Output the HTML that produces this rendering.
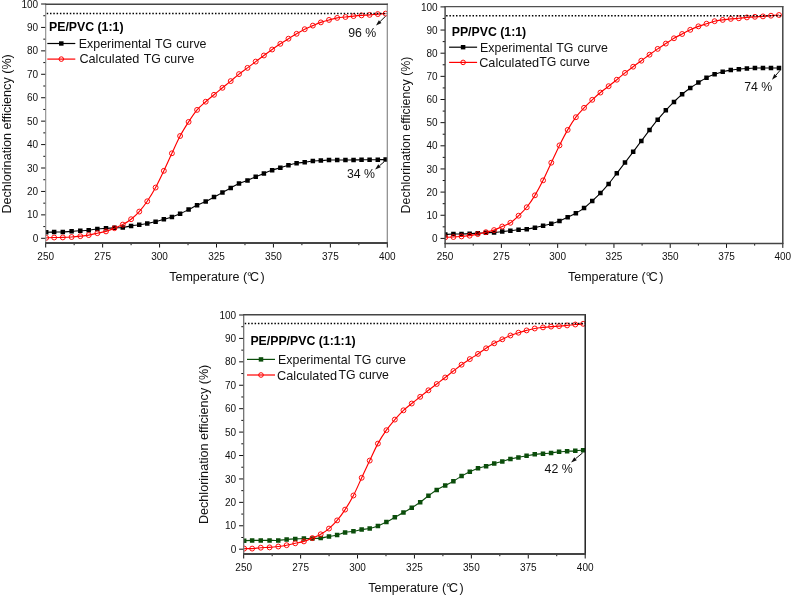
<!DOCTYPE html>
<html><head><meta charset="utf-8"><style>
html,body{margin:0;padding:0;background:#fff;}
svg{display:block;will-change:transform;}
text{font-family:"Liberation Sans", sans-serif;fill:#111;}
.t{font-size:10px;}
.l{font-size:12.5px;}
.yl{font-size:12.6px;}
.g{font-size:12.4px;word-spacing:0.6px;}
.c{font-size:12.7px;}
.g2{font-size:12.3px;}
.b{font-size:12.3px;font-weight:bold;fill:#000;}
.a{font-size:12.3px;}
</style></head><body>
<svg width="791" height="595" viewBox="0 0 791 595">
<rect width="791" height="595" fill="#fff"/>

<defs>
<clipPath id="c1"><rect x="45.7" y="4.2" width="341.6" height="238.8"/></clipPath>
<clipPath id="c2"><rect x="445.1" y="6.6" width="337.7" height="236.8"/></clipPath>
<clipPath id="c3"><rect x="243.7" y="314.7" width="341.5" height="239.3"/></clipPath>
</defs>
<path d="M41.1 238.3H45.7M43.3 226.59H45.7M41.1 214.87H45.7M43.3 203.16H45.7M41.1 191.44H45.7M43.3 179.73H45.7M41.1 168.01H45.7M43.3 156.3H45.7M41.1 144.58H45.7M43.3 132.87H45.7M41.1 121.15H45.7M43.3 109.44H45.7M41.1 97.72H45.7M43.3 86.01H45.7M41.1 74.29H45.7M43.3 62.58H45.7M41.1 50.86H45.7M43.3 39.15H45.7M41.1 27.43H45.7M43.3 15.72H45.7M41.1 4H45.7M45.7 243V247.5M74.17 243V245.2M102.63 243V247.5M131.1 243V245.2M159.57 243V247.5M188.03 243V245.2M216.5 243V247.5M244.97 243V245.2M273.43 243V247.5M301.9 243V245.2M330.37 243V247.5M358.83 243V245.2M387.3 243V247.5" stroke="#111" stroke-width="1" fill="none"/>
<text x="38.2" y="241.9" text-anchor="end" class="t">0</text>
<text x="38.2" y="218.47" text-anchor="end" class="t">10</text>
<text x="38.2" y="195.04" text-anchor="end" class="t">20</text>
<text x="38.2" y="171.61" text-anchor="end" class="t">30</text>
<text x="38.2" y="148.18" text-anchor="end" class="t">40</text>
<text x="38.2" y="124.75" text-anchor="end" class="t">50</text>
<text x="38.2" y="101.32" text-anchor="end" class="t">60</text>
<text x="38.2" y="77.89" text-anchor="end" class="t">70</text>
<text x="38.2" y="54.46" text-anchor="end" class="t">80</text>
<text x="38.2" y="31.03" text-anchor="end" class="t">90</text>
<text x="38.2" y="7.6" text-anchor="end" class="t">100</text>
<text x="45.7" y="259.6" text-anchor="middle" class="t">250</text>
<text x="102.63" y="259.6" text-anchor="middle" class="t">275</text>
<text x="159.57" y="259.6" text-anchor="middle" class="t">300</text>
<text x="216.5" y="259.6" text-anchor="middle" class="t">325</text>
<text x="273.43" y="259.6" text-anchor="middle" class="t">350</text>
<text x="330.37" y="259.6" text-anchor="middle" class="t">375</text>
<text x="387.3" y="259.6" text-anchor="middle" class="t">400</text>
<text x="217" y="280.8" text-anchor="middle" class="l">Temperature (<tspan>°</tspan><tspan dx="-2">C</tspan><tspan dx="1.5">)</tspan></text>
<text transform="translate(10.9 133.9) rotate(-90)" text-anchor="middle" class="yl" style="font-size:12.6px">Dechlorination efficiency (%)</text>
<g clip-path="url(#c1)">
<path d="M46.2 232.3C47.53 232.27 51.38 232.15 54.15 232.09C56.92 232.04 59.89 232.11 62.8 231.97C65.71 231.84 68.68 231.49 71.6 231.29C74.52 231.1 77.45 230.99 80.3 230.8C83.15 230.62 85.86 230.5 88.7 230.19C91.54 229.89 94.47 229.28 97.35 228.97C100.23 228.67 103.15 228.53 106 228.34C108.85 228.16 111.65 228.01 114.45 227.87C117.25 227.74 120.03 227.85 122.8 227.52C125.57 227.19 128.36 226.34 131.1 225.88C133.84 225.43 136.56 225.21 139.25 224.8C141.94 224.39 144.53 223.93 147.25 223.42C149.97 222.92 152.83 222.46 155.6 221.78C158.37 221.11 161.13 220.18 163.85 219.37C166.57 218.56 169.19 217.86 171.9 216.93C174.61 216 177.32 215.01 180.1 213.79C182.88 212.57 185.77 211.01 188.6 209.6C191.43 208.18 194.2 206.64 197.05 205.31C199.9 203.98 202.88 202.98 205.7 201.61C208.52 200.24 211.21 198.61 214 197.11C216.79 195.61 219.67 194.13 222.45 192.61C225.23 191.09 227.94 189.51 230.7 188C233.46 186.48 236.2 184.76 239 183.5C241.8 182.23 244.72 181.52 247.5 180.4C250.28 179.29 252.97 177.96 255.7 176.8C258.43 175.63 261.16 174.48 263.9 173.4C266.64 172.32 269.41 171.26 272.15 170.31C274.89 169.36 277.63 168.56 280.35 167.71C283.07 166.85 285.74 165.93 288.45 165.2C291.16 164.46 293.89 163.79 296.6 163.3C299.31 162.81 301.99 162.65 304.7 162.27C307.41 161.89 310.16 161.28 312.85 161C315.54 160.73 318.16 160.77 320.85 160.61C323.54 160.44 326.27 160.1 329 160C331.73 159.9 334.46 159.99 337.2 160C339.94 160 342.72 160.06 345.45 160.04C348.18 160.03 350.87 159.94 353.55 159.9C356.23 159.86 358.88 159.83 361.55 159.81C364.23 159.79 366.89 159.83 369.6 159.81C372.31 159.79 375.12 159.73 377.8 159.69C380.48 159.65 384.34 159.59 385.65 159.58" stroke="#000" stroke-width="1.1" fill="none"/>
<path d="M43.95 230.05h4.5v4.5h-4.5zM51.9 229.84h4.5v4.5h-4.5zM60.55 229.72h4.5v4.5h-4.5zM69.35 229.04h4.5v4.5h-4.5zM78.05 228.55h4.5v4.5h-4.5zM86.45 227.94h4.5v4.5h-4.5zM95.1 226.72h4.5v4.5h-4.5zM103.75 226.09h4.5v4.5h-4.5zM112.2 225.62h4.5v4.5h-4.5zM120.55 225.27h4.5v4.5h-4.5zM128.85 223.63h4.5v4.5h-4.5zM137 222.55h4.5v4.5h-4.5zM145 221.17h4.5v4.5h-4.5zM153.35 219.53h4.5v4.5h-4.5zM161.6 217.12h4.5v4.5h-4.5zM169.65 214.68h4.5v4.5h-4.5zM177.85 211.54h4.5v4.5h-4.5zM186.35 207.35h4.5v4.5h-4.5zM194.8 203.06h4.5v4.5h-4.5zM203.45 199.36h4.5v4.5h-4.5zM211.75 194.86h4.5v4.5h-4.5zM220.2 190.36h4.5v4.5h-4.5zM228.45 185.75h4.5v4.5h-4.5zM236.75 181.25h4.5v4.5h-4.5zM245.25 178.15h4.5v4.5h-4.5zM253.45 174.55h4.5v4.5h-4.5zM261.65 171.15h4.5v4.5h-4.5zM269.9 168.06h4.5v4.5h-4.5zM278.1 165.46h4.5v4.5h-4.5zM286.2 162.95h4.5v4.5h-4.5zM294.35 161.05h4.5v4.5h-4.5zM302.45 160.02h4.5v4.5h-4.5zM310.6 158.75h4.5v4.5h-4.5zM318.6 158.36h4.5v4.5h-4.5zM326.75 157.75h4.5v4.5h-4.5zM334.95 157.75h4.5v4.5h-4.5zM343.2 157.79h4.5v4.5h-4.5zM351.3 157.65h4.5v4.5h-4.5zM359.3 157.56h4.5v4.5h-4.5zM367.35 157.56h4.5v4.5h-4.5zM375.55 157.44h4.5v4.5h-4.5zM383.4 157.33h4.5v4.5h-4.5z" fill="#000"/>
</g>
<g clip-path="url(#c1)">
<path d="M46.2 237.83C47.53 237.78 51.38 237.57 54.15 237.5C56.92 237.43 59.89 237.49 62.8 237.41C65.71 237.33 68.68 237.21 71.6 237.01C74.52 236.81 77.45 236.51 80.3 236.19C83.15 235.87 85.86 235.59 88.7 235.09C91.54 234.59 94.47 233.81 97.35 233.19C100.23 232.58 103.15 232.24 106 231.41C108.85 230.58 111.65 229.34 114.45 228.2C117.25 227.07 120.03 226.09 122.8 224.59C125.57 223.09 128.36 221.37 131.1 219.2C133.84 217.04 136.56 214.58 139.25 211.59C141.94 208.6 144.53 205.28 147.25 201.28C149.97 197.28 152.83 192.65 155.6 187.57C158.37 182.5 161.13 176.53 163.85 170.82C166.57 165.11 169.19 159.1 171.9 153.3C174.61 147.49 177.32 141.24 180.1 136C182.88 130.77 185.77 126.25 188.6 121.9C191.43 117.55 194.2 113.27 197.05 109.9C199.9 106.54 202.88 104.22 205.7 101.7C208.52 99.18 211.21 97.11 214 94.79C216.79 92.48 219.67 90.09 222.45 87.81C225.23 85.53 227.94 83.39 230.7 81.11C233.46 78.82 236.2 76.3 239 74.1C241.8 71.9 244.72 69.98 247.5 67.89C250.28 65.81 252.97 63.66 255.7 61.59C258.43 59.53 261.16 57.51 263.9 55.5C266.64 53.48 269.41 51.45 272.15 49.5C274.89 47.55 277.63 45.61 280.35 43.81C283.07 42.01 285.74 40.37 288.45 38.7C291.16 37.03 293.89 35.38 296.6 33.8C299.31 32.22 301.99 30.58 304.7 29.21C307.41 27.84 310.16 26.74 312.85 25.6C315.54 24.47 318.16 23.34 320.85 22.39C323.54 21.45 326.27 20.68 329 19.93C331.73 19.18 334.46 18.38 337.2 17.89C339.94 17.41 342.72 17.3 345.45 17C348.18 16.7 350.87 16.36 353.55 16.09C356.23 15.82 358.88 15.59 361.55 15.39C364.23 15.19 366.89 15.11 369.6 14.89C372.31 14.68 375.12 14.29 377.8 14.07C380.48 13.86 384.34 13.68 385.65 13.61" stroke="#f00" stroke-width="1.15" fill="none"/>
<circle cx="46.2" cy="237.83" r="2.45" fill="none" stroke="#f00" stroke-width="0.95"/>
<circle cx="54.15" cy="237.5" r="2.45" fill="none" stroke="#f00" stroke-width="0.95"/>
<circle cx="62.8" cy="237.41" r="2.45" fill="none" stroke="#f00" stroke-width="0.95"/>
<circle cx="71.6" cy="237.01" r="2.45" fill="none" stroke="#f00" stroke-width="0.95"/>
<circle cx="80.3" cy="236.19" r="2.45" fill="none" stroke="#f00" stroke-width="0.95"/>
<circle cx="88.7" cy="235.09" r="2.45" fill="none" stroke="#f00" stroke-width="0.95"/>
<circle cx="97.35" cy="233.19" r="2.45" fill="none" stroke="#f00" stroke-width="0.95"/>
<circle cx="106" cy="231.41" r="2.45" fill="none" stroke="#f00" stroke-width="0.95"/>
<circle cx="114.45" cy="228.2" r="2.45" fill="none" stroke="#f00" stroke-width="0.95"/>
<circle cx="122.8" cy="224.59" r="2.45" fill="none" stroke="#f00" stroke-width="0.95"/>
<circle cx="131.1" cy="219.2" r="2.45" fill="none" stroke="#f00" stroke-width="0.95"/>
<circle cx="139.25" cy="211.59" r="2.45" fill="none" stroke="#f00" stroke-width="0.95"/>
<circle cx="147.25" cy="201.28" r="2.45" fill="none" stroke="#f00" stroke-width="0.95"/>
<circle cx="155.6" cy="187.57" r="2.45" fill="none" stroke="#f00" stroke-width="0.95"/>
<circle cx="163.85" cy="170.82" r="2.45" fill="none" stroke="#f00" stroke-width="0.95"/>
<circle cx="171.9" cy="153.3" r="2.45" fill="none" stroke="#f00" stroke-width="0.95"/>
<circle cx="180.1" cy="136" r="2.45" fill="none" stroke="#f00" stroke-width="0.95"/>
<circle cx="188.6" cy="121.9" r="2.45" fill="none" stroke="#f00" stroke-width="0.95"/>
<circle cx="197.05" cy="109.9" r="2.45" fill="none" stroke="#f00" stroke-width="0.95"/>
<circle cx="205.7" cy="101.7" r="2.45" fill="none" stroke="#f00" stroke-width="0.95"/>
<circle cx="214" cy="94.79" r="2.45" fill="none" stroke="#f00" stroke-width="0.95"/>
<circle cx="222.45" cy="87.81" r="2.45" fill="none" stroke="#f00" stroke-width="0.95"/>
<circle cx="230.7" cy="81.11" r="2.45" fill="none" stroke="#f00" stroke-width="0.95"/>
<circle cx="239" cy="74.1" r="2.45" fill="none" stroke="#f00" stroke-width="0.95"/>
<circle cx="247.5" cy="67.89" r="2.45" fill="none" stroke="#f00" stroke-width="0.95"/>
<circle cx="255.7" cy="61.59" r="2.45" fill="none" stroke="#f00" stroke-width="0.95"/>
<circle cx="263.9" cy="55.5" r="2.45" fill="none" stroke="#f00" stroke-width="0.95"/>
<circle cx="272.15" cy="49.5" r="2.45" fill="none" stroke="#f00" stroke-width="0.95"/>
<circle cx="280.35" cy="43.81" r="2.45" fill="none" stroke="#f00" stroke-width="0.95"/>
<circle cx="288.45" cy="38.7" r="2.45" fill="none" stroke="#f00" stroke-width="0.95"/>
<circle cx="296.6" cy="33.8" r="2.45" fill="none" stroke="#f00" stroke-width="0.95"/>
<circle cx="304.7" cy="29.21" r="2.45" fill="none" stroke="#f00" stroke-width="0.95"/>
<circle cx="312.85" cy="25.6" r="2.45" fill="none" stroke="#f00" stroke-width="0.95"/>
<circle cx="320.85" cy="22.39" r="2.45" fill="none" stroke="#f00" stroke-width="0.95"/>
<circle cx="329" cy="19.93" r="2.45" fill="none" stroke="#f00" stroke-width="0.95"/>
<circle cx="337.2" cy="17.89" r="2.45" fill="none" stroke="#f00" stroke-width="0.95"/>
<circle cx="345.45" cy="17" r="2.45" fill="none" stroke="#f00" stroke-width="0.95"/>
<circle cx="353.55" cy="16.09" r="2.45" fill="none" stroke="#f00" stroke-width="0.95"/>
<circle cx="361.55" cy="15.39" r="2.45" fill="none" stroke="#f00" stroke-width="0.95"/>
<circle cx="369.6" cy="14.89" r="2.45" fill="none" stroke="#f00" stroke-width="0.95"/>
<circle cx="377.8" cy="14.07" r="2.45" fill="none" stroke="#f00" stroke-width="0.95"/>
<circle cx="385.65" cy="13.61" r="2.45" fill="none" stroke="#f00" stroke-width="0.95"/>
</g>
<path d="M46.7 13.6H387.3" stroke="#000" stroke-width="1.5" stroke-dasharray="1.5 1.8"/>
<path d="M45.7 3.6V243.7" stroke="#8a8a8a" stroke-width="1.1"/>
<path d="M387.3 3.6V243.7" stroke="#888" stroke-width="1.2"/>
<path d="M45.2 4.2H387.8" stroke="#444" stroke-width="1.4"/>
<path d="M45.2 243H387.8" stroke="#444" stroke-width="1.8"/>
<text x="49" y="31.4" class="b">PE/PVC (1:1)</text>
<path d="M47.3 43.5h28" stroke="#000" stroke-width="1.2"/>
<path d="M47.3 59.1h28" stroke="#f00" stroke-width="1.2"/>
<rect x="59.05" y="41.3" width="4.5" height="4.4" fill="#000"/>
<circle cx="61.3" cy="59.1" r="2.3" fill="none" stroke="#f00" stroke-width="1"/>
<text x="78.8" y="47.7" class="g">Experimental TG curve</text>
<text x="79.4" y="63" class="c">Calculated</text>
<text x="143.7" y="63" class="g2">TG curve</text>
<path d="M385.6 16.2L380.14 21.54" stroke="#111" stroke-width="1"/>
<path d="M376 25.6L378.81 20.18L381.47 22.9Z" fill="#111"/>
<text x="348.2" y="36.8" class="a">96 %</text>
<path d="M384.1 161.8L379.51 165.73" stroke="#111" stroke-width="1"/>
<path d="M375.1 169.5L378.27 164.29L380.74 167.17Z" fill="#111"/>
<text x="347" y="178.2" class="a">34 %</text>
<path d="M440.5 238.4H445.1M442.7 226.83H445.1M440.5 215.25H445.1M442.7 203.68H445.1M440.5 192.1H445.1M442.7 180.53H445.1M440.5 168.95H445.1M442.7 157.38H445.1M440.5 145.8H445.1M442.7 134.23H445.1M440.5 122.65H445.1M442.7 111.08H445.1M440.5 99.5H445.1M442.7 87.93H445.1M440.5 76.35H445.1M442.7 64.78H445.1M440.5 53.2H445.1M442.7 41.62H445.1M440.5 30.05H445.1M442.7 18.48H445.1M440.5 6.9H445.1M445.1 243.4V247.9M473.24 243.4V245.6M501.38 243.4V247.9M529.52 243.4V245.6M557.67 243.4V247.9M585.81 243.4V245.6M613.95 243.4V247.9M642.09 243.4V245.6M670.23 243.4V247.9M698.38 243.4V245.6M726.52 243.4V247.9M754.66 243.4V245.6M782.8 243.4V247.9" stroke="#111" stroke-width="1" fill="none"/>
<text x="437.6" y="242" text-anchor="end" class="t">0</text>
<text x="437.6" y="218.85" text-anchor="end" class="t">10</text>
<text x="437.6" y="195.7" text-anchor="end" class="t">20</text>
<text x="437.6" y="172.55" text-anchor="end" class="t">30</text>
<text x="437.6" y="149.4" text-anchor="end" class="t">40</text>
<text x="437.6" y="126.25" text-anchor="end" class="t">50</text>
<text x="437.6" y="103.1" text-anchor="end" class="t">60</text>
<text x="437.6" y="79.95" text-anchor="end" class="t">70</text>
<text x="437.6" y="56.8" text-anchor="end" class="t">80</text>
<text x="437.6" y="33.65" text-anchor="end" class="t">90</text>
<text x="437.6" y="10.5" text-anchor="end" class="t">100</text>
<text x="445.1" y="260" text-anchor="middle" class="t">250</text>
<text x="501.38" y="260" text-anchor="middle" class="t">275</text>
<text x="557.67" y="260" text-anchor="middle" class="t">300</text>
<text x="613.95" y="260" text-anchor="middle" class="t">325</text>
<text x="670.23" y="260" text-anchor="middle" class="t">350</text>
<text x="726.52" y="260" text-anchor="middle" class="t">375</text>
<text x="782.8" y="260" text-anchor="middle" class="t">400</text>
<text x="615.7" y="281.3" text-anchor="middle" class="l">Temperature (<tspan>°</tspan><tspan dx="-2">C</tspan><tspan dx="1.5">)</tspan></text>
<text transform="translate(410 135) rotate(-90)" text-anchor="middle" class="yl" style="font-size:12.4px">Dechlorination efficiency (%)</text>
<g clip-path="url(#c2)">
<path d="M445.3 234.46C446.65 234.4 450.7 234.15 453.41 234.07C456.11 233.99 458.81 234.07 461.52 234C464.23 233.93 466.94 233.8 469.65 233.65C472.36 233.51 475.07 233.3 477.78 233.14C480.49 232.99 483.21 232.86 485.92 232.73C488.64 232.6 491.35 232.57 494.07 232.38C496.79 232.19 499.51 231.88 502.23 231.59C504.95 231.31 507.67 230.99 510.39 230.69C513.12 230.39 515.84 230.07 518.56 229.81C521.29 229.55 524.01 229.5 526.74 229.14C529.46 228.78 532.19 228.19 534.92 227.64C537.65 227.08 540.37 226.44 543.1 225.78C545.83 225.13 548.56 224.51 551.29 223.7C554.02 222.89 556.75 221.96 559.48 220.9C562.21 219.83 564.94 218.6 567.67 217.31C570.4 216.03 573.13 214.73 575.86 213.19C578.59 211.65 581.32 210.15 584.05 208.1C586.78 206.05 589.51 203.4 592.24 200.9C594.97 198.4 597.7 195.93 600.43 193.1C603.16 190.26 605.89 187.2 608.62 183.9C611.35 180.61 614.08 176.86 616.8 173.3C619.53 169.75 622.26 166.17 624.99 162.58C627.72 159 630.44 155.41 633.17 151.8C635.89 148.18 638.62 144.51 641.34 140.89C644.07 137.28 646.79 133.63 649.51 130.1C652.23 126.57 654.96 123.01 657.68 119.71C660.4 116.41 663.12 113.28 665.83 110.31C668.55 107.34 671.27 104.58 673.98 101.91C676.7 99.24 679.41 96.6 682.13 94.29C684.84 91.98 687.55 89.99 690.26 88.04C692.97 86.09 695.68 84.33 698.39 82.6C701.09 80.87 703.8 79.06 706.5 77.67C709.2 76.28 711.9 75.26 714.6 74.27C717.3 73.27 720 72.41 722.7 71.72C725.39 71.03 728.09 70.52 730.78 70.1C733.47 69.68 736.16 69.44 738.85 69.17C741.53 68.9 744.22 68.67 746.9 68.48C749.59 68.29 752.27 68.09 754.94 68.02C757.62 67.94 760.3 68.02 762.97 68.02C765.64 68.02 768.31 68.02 770.98 68.02C773.65 68.02 777.65 68.02 778.98 68.02" stroke="#000" stroke-width="1.1" fill="none"/>
<path d="M443.05 232.21h4.5v4.5h-4.5zM451.16 231.82h4.5v4.5h-4.5zM459.27 231.75h4.5v4.5h-4.5zM467.4 231.4h4.5v4.5h-4.5zM475.53 230.89h4.5v4.5h-4.5zM483.67 230.48h4.5v4.5h-4.5zM491.82 230.13h4.5v4.5h-4.5zM499.98 229.34h4.5v4.5h-4.5zM508.14 228.44h4.5v4.5h-4.5zM516.31 227.56h4.5v4.5h-4.5zM524.49 226.89h4.5v4.5h-4.5zM532.67 225.39h4.5v4.5h-4.5zM540.85 223.53h4.5v4.5h-4.5zM549.04 221.45h4.5v4.5h-4.5zM557.23 218.65h4.5v4.5h-4.5zM565.42 215.06h4.5v4.5h-4.5zM573.61 210.94h4.5v4.5h-4.5zM581.8 205.85h4.5v4.5h-4.5zM589.99 198.65h4.5v4.5h-4.5zM598.18 190.85h4.5v4.5h-4.5zM606.37 181.65h4.5v4.5h-4.5zM614.55 171.05h4.5v4.5h-4.5zM622.74 160.33h4.5v4.5h-4.5zM630.92 149.55h4.5v4.5h-4.5zM639.09 138.64h4.5v4.5h-4.5zM647.26 127.85h4.5v4.5h-4.5zM655.43 117.46h4.5v4.5h-4.5zM663.58 108.06h4.5v4.5h-4.5zM671.73 99.66h4.5v4.5h-4.5zM679.88 92.04h4.5v4.5h-4.5zM688.01 85.79h4.5v4.5h-4.5zM696.14 80.35h4.5v4.5h-4.5zM704.25 75.42h4.5v4.5h-4.5zM712.35 72.02h4.5v4.5h-4.5zM720.45 69.47h4.5v4.5h-4.5zM728.53 67.85h4.5v4.5h-4.5zM736.6 66.92h4.5v4.5h-4.5zM744.65 66.23h4.5v4.5h-4.5zM752.69 65.77h4.5v4.5h-4.5zM760.72 65.77h4.5v4.5h-4.5zM768.73 65.77h4.5v4.5h-4.5zM776.73 65.77h4.5v4.5h-4.5z" fill="#000"/>
</g>
<g clip-path="url(#c2)">
<path d="M445.3 237.31C446.65 237.26 450.7 237.16 453.41 237.01C456.11 236.86 458.81 236.63 461.52 236.41C464.23 236.19 466.94 236.08 469.65 235.69C472.36 235.31 475.07 234.68 477.78 234.09C480.49 233.51 483.21 232.86 485.92 232.2C488.64 231.53 491.35 231.04 494.07 230.09C496.79 229.14 499.51 227.72 502.23 226.5C504.95 225.29 507.67 224.59 510.39 222.8C513.12 221 515.84 218.3 518.56 215.71C521.29 213.12 524.01 210.66 526.74 207.26C529.46 203.87 532.19 199.82 534.92 195.34C537.65 190.86 540.37 185.8 543.1 180.36C545.83 174.92 548.56 168.53 551.29 162.7C554.02 156.87 556.75 150.87 559.48 145.41C562.21 139.94 564.94 134.6 567.67 129.9C570.4 125.2 573.13 120.89 575.86 117.21C578.59 113.53 581.32 110.71 584.05 107.81C586.78 104.91 589.51 102.34 592.24 99.8C594.97 97.26 597.7 94.82 600.43 92.56C603.16 90.29 605.89 88.33 608.62 86.19C611.35 84.05 614.08 81.92 616.8 79.71C619.53 77.49 622.26 75.07 624.99 72.9C627.72 70.73 630.44 68.73 633.17 66.7C635.89 64.66 638.62 62.7 641.34 60.7C644.07 58.7 646.79 56.67 649.51 54.7C652.23 52.74 654.96 50.75 657.68 48.89C660.4 47.04 663.12 45.36 665.83 43.59C668.55 41.83 671.27 39.89 673.98 38.29C676.7 36.69 679.41 35.4 682.13 33.99C684.84 32.57 687.55 31.09 690.26 29.82C692.97 28.55 695.68 27.36 698.39 26.35C701.09 25.33 703.8 24.56 706.5 23.71C709.2 22.85 711.9 21.84 714.6 21.21C717.3 20.57 720 20.3 722.7 19.91C725.39 19.52 728.09 19.16 730.78 18.89C733.47 18.62 736.16 18.54 738.85 18.29C741.53 18.04 744.22 17.66 746.9 17.41C749.59 17.16 752.27 16.98 754.94 16.81C757.62 16.64 760.3 16.58 762.97 16.39C765.64 16.21 768.31 15.93 770.98 15.7C773.65 15.47 777.65 15.12 778.98 15" stroke="#f00" stroke-width="1.15" fill="none"/>
<circle cx="445.3" cy="237.31" r="2.45" fill="none" stroke="#f00" stroke-width="0.95"/>
<circle cx="453.41" cy="237.01" r="2.45" fill="none" stroke="#f00" stroke-width="0.95"/>
<circle cx="461.52" cy="236.41" r="2.45" fill="none" stroke="#f00" stroke-width="0.95"/>
<circle cx="469.65" cy="235.69" r="2.45" fill="none" stroke="#f00" stroke-width="0.95"/>
<circle cx="477.78" cy="234.09" r="2.45" fill="none" stroke="#f00" stroke-width="0.95"/>
<circle cx="485.92" cy="232.2" r="2.45" fill="none" stroke="#f00" stroke-width="0.95"/>
<circle cx="494.07" cy="230.09" r="2.45" fill="none" stroke="#f00" stroke-width="0.95"/>
<circle cx="502.23" cy="226.5" r="2.45" fill="none" stroke="#f00" stroke-width="0.95"/>
<circle cx="510.39" cy="222.8" r="2.45" fill="none" stroke="#f00" stroke-width="0.95"/>
<circle cx="518.56" cy="215.71" r="2.45" fill="none" stroke="#f00" stroke-width="0.95"/>
<circle cx="526.74" cy="207.26" r="2.45" fill="none" stroke="#f00" stroke-width="0.95"/>
<circle cx="534.92" cy="195.34" r="2.45" fill="none" stroke="#f00" stroke-width="0.95"/>
<circle cx="543.1" cy="180.36" r="2.45" fill="none" stroke="#f00" stroke-width="0.95"/>
<circle cx="551.29" cy="162.7" r="2.45" fill="none" stroke="#f00" stroke-width="0.95"/>
<circle cx="559.48" cy="145.41" r="2.45" fill="none" stroke="#f00" stroke-width="0.95"/>
<circle cx="567.67" cy="129.9" r="2.45" fill="none" stroke="#f00" stroke-width="0.95"/>
<circle cx="575.86" cy="117.21" r="2.45" fill="none" stroke="#f00" stroke-width="0.95"/>
<circle cx="584.05" cy="107.81" r="2.45" fill="none" stroke="#f00" stroke-width="0.95"/>
<circle cx="592.24" cy="99.8" r="2.45" fill="none" stroke="#f00" stroke-width="0.95"/>
<circle cx="600.43" cy="92.56" r="2.45" fill="none" stroke="#f00" stroke-width="0.95"/>
<circle cx="608.62" cy="86.19" r="2.45" fill="none" stroke="#f00" stroke-width="0.95"/>
<circle cx="616.8" cy="79.71" r="2.45" fill="none" stroke="#f00" stroke-width="0.95"/>
<circle cx="624.99" cy="72.9" r="2.45" fill="none" stroke="#f00" stroke-width="0.95"/>
<circle cx="633.17" cy="66.7" r="2.45" fill="none" stroke="#f00" stroke-width="0.95"/>
<circle cx="641.34" cy="60.7" r="2.45" fill="none" stroke="#f00" stroke-width="0.95"/>
<circle cx="649.51" cy="54.7" r="2.45" fill="none" stroke="#f00" stroke-width="0.95"/>
<circle cx="657.68" cy="48.89" r="2.45" fill="none" stroke="#f00" stroke-width="0.95"/>
<circle cx="665.83" cy="43.59" r="2.45" fill="none" stroke="#f00" stroke-width="0.95"/>
<circle cx="673.98" cy="38.29" r="2.45" fill="none" stroke="#f00" stroke-width="0.95"/>
<circle cx="682.13" cy="33.99" r="2.45" fill="none" stroke="#f00" stroke-width="0.95"/>
<circle cx="690.26" cy="29.82" r="2.45" fill="none" stroke="#f00" stroke-width="0.95"/>
<circle cx="698.39" cy="26.35" r="2.45" fill="none" stroke="#f00" stroke-width="0.95"/>
<circle cx="706.5" cy="23.71" r="2.45" fill="none" stroke="#f00" stroke-width="0.95"/>
<circle cx="714.6" cy="21.21" r="2.45" fill="none" stroke="#f00" stroke-width="0.95"/>
<circle cx="722.7" cy="19.91" r="2.45" fill="none" stroke="#f00" stroke-width="0.95"/>
<circle cx="730.78" cy="18.89" r="2.45" fill="none" stroke="#f00" stroke-width="0.95"/>
<circle cx="738.85" cy="18.29" r="2.45" fill="none" stroke="#f00" stroke-width="0.95"/>
<circle cx="746.9" cy="17.41" r="2.45" fill="none" stroke="#f00" stroke-width="0.95"/>
<circle cx="754.94" cy="16.81" r="2.45" fill="none" stroke="#f00" stroke-width="0.95"/>
<circle cx="762.97" cy="16.39" r="2.45" fill="none" stroke="#f00" stroke-width="0.95"/>
<circle cx="770.98" cy="15.7" r="2.45" fill="none" stroke="#f00" stroke-width="0.95"/>
<circle cx="778.98" cy="15" r="2.45" fill="none" stroke="#f00" stroke-width="0.95"/>
</g>
<path d="M446.1 15.7H782.8" stroke="#000" stroke-width="1.5" stroke-dasharray="1.5 1.8"/>
<path d="M445.1 6V244.1" stroke="#404040" stroke-width="1.4"/>
<path d="M782.8 6V244.1" stroke="#383838" stroke-width="1.4"/>
<path d="M444.6 6.6H783.3" stroke="#505050" stroke-width="1.3"/>
<path d="M444.6 243.4H783.3" stroke="#444" stroke-width="1.5"/>
<text x="451.7" y="35.6" class="b">PP/PVC (1:1)</text>
<path d="M449.1 47.2h28" stroke="#000" stroke-width="1.2"/>
<path d="M449.1 62.4h28" stroke="#f00" stroke-width="1.2"/>
<rect x="460.85" y="45" width="4.5" height="4.4" fill="#000"/>
<circle cx="463.1" cy="62.4" r="2.3" fill="none" stroke="#f00" stroke-width="1"/>
<text x="480.1" y="51.5" class="g">Experimental TG curve</text>
<text x="479.2" y="67.2" class="c">Calculated</text>
<text x="539.2" y="66.1" class="g2">TG curve</text>
<path d="M780.3 70.1L775.79 75.31" stroke="#111" stroke-width="1"/>
<path d="M772 79.7L774.36 74.07L777.23 76.56Z" fill="#111"/>
<text x="744.2" y="90.8" class="a">74 %</text>
<path d="M239.1 549.2H243.7M241.3 537.49H243.7M239.1 525.78H243.7M241.3 514.07H243.7M239.1 502.36H243.7M241.3 490.65H243.7M239.1 478.94H243.7M241.3 467.23H243.7M239.1 455.52H243.7M241.3 443.81H243.7M239.1 432.1H243.7M241.3 420.39H243.7M239.1 408.68H243.7M241.3 396.97H243.7M239.1 385.26H243.7M241.3 373.55H243.7M239.1 361.84H243.7M241.3 350.13H243.7M239.1 338.42H243.7M241.3 326.71H243.7M239.1 315H243.7M243.7 554V558.5M272.16 554V556.2M300.62 554V558.5M329.07 554V556.2M357.53 554V558.5M385.99 554V556.2M414.45 554V558.5M442.91 554V556.2M471.37 554V558.5M499.82 554V556.2M528.28 554V558.5M556.74 554V556.2M585.2 554V558.5" stroke="#111" stroke-width="1" fill="none"/>
<text x="236.2" y="552.8" text-anchor="end" class="t">0</text>
<text x="236.2" y="529.38" text-anchor="end" class="t">10</text>
<text x="236.2" y="505.96" text-anchor="end" class="t">20</text>
<text x="236.2" y="482.54" text-anchor="end" class="t">30</text>
<text x="236.2" y="459.12" text-anchor="end" class="t">40</text>
<text x="236.2" y="435.7" text-anchor="end" class="t">50</text>
<text x="236.2" y="412.28" text-anchor="end" class="t">60</text>
<text x="236.2" y="388.86" text-anchor="end" class="t">70</text>
<text x="236.2" y="365.44" text-anchor="end" class="t">80</text>
<text x="236.2" y="342.02" text-anchor="end" class="t">90</text>
<text x="236.2" y="318.6" text-anchor="end" class="t">100</text>
<text x="243.7" y="570.6" text-anchor="middle" class="t">250</text>
<text x="300.62" y="570.6" text-anchor="middle" class="t">275</text>
<text x="357.53" y="570.6" text-anchor="middle" class="t">300</text>
<text x="414.45" y="570.6" text-anchor="middle" class="t">325</text>
<text x="471.37" y="570.6" text-anchor="middle" class="t">350</text>
<text x="528.28" y="570.6" text-anchor="middle" class="t">375</text>
<text x="585.2" y="570.6" text-anchor="middle" class="t">400</text>
<text x="416" y="591.6" text-anchor="middle" class="l">Temperature (<tspan>°</tspan><tspan dx="-2">C</tspan><tspan dx="1.5">)</tspan></text>
<text transform="translate(208.1 444.4) rotate(-90)" text-anchor="middle" class="yl" style="font-size:12.6px">Dechlorination efficiency (%)</text>
<g clip-path="url(#c3)">
<path d="M244.2 540.7C245.52 540.65 249.38 540.44 252.14 540.39C254.9 540.34 257.87 540.39 260.78 540.39C263.68 540.39 266.65 540.39 269.56 540.39C272.47 540.39 275.4 540.54 278.25 540.39C281.09 540.25 283.8 539.75 286.64 539.5C289.47 539.25 292.39 539.06 295.27 538.9C298.15 538.73 301.06 538.58 303.91 538.5C306.76 538.42 309.55 538.49 312.35 538.43C315.14 538.36 317.91 538.43 320.69 538.1C323.46 537.77 326.24 536.94 328.97 536.44C331.71 535.93 334.42 535.73 337.11 535.05C339.8 534.38 342.38 533.03 345.1 532.41C347.82 531.78 350.67 531.78 353.44 531.31C356.2 530.84 358.96 530.07 361.67 529.6C364.39 529.13 367.01 529.11 369.71 528.5C372.42 527.88 375.12 526.96 377.9 525.9C380.68 524.83 383.57 523.54 386.39 522.1C389.21 520.67 391.98 518.89 394.82 517.3C397.67 515.72 400.64 514.19 403.46 512.59C406.28 510.99 408.96 509.42 411.75 507.7C414.54 505.98 417.41 504.27 420.19 502.29C422.96 500.31 425.67 497.85 428.42 495.8C431.18 493.75 433.92 491.71 436.71 489.99C439.51 488.28 442.42 486.96 445.2 485.5C447.98 484.03 450.66 482.78 453.39 481.21C456.11 479.65 458.84 477.68 461.57 476.11C464.31 474.54 467.07 473.1 469.81 471.8C472.55 470.5 475.29 469.24 478 468.31C480.71 467.37 483.38 466.98 486.09 466.2C488.79 465.41 491.52 464.4 494.22 463.6C496.93 462.8 499.61 462.14 502.31 461.38C505.02 460.61 507.76 459.7 510.45 459.03C513.14 458.37 515.75 457.94 518.44 457.39C521.13 456.85 523.85 456.26 526.58 455.75C529.3 455.25 532.03 454.7 534.76 454.35C537.5 454 540.28 453.88 543 453.65C545.72 453.41 548.41 453.26 551.09 452.94C553.77 452.63 556.41 452.05 559.08 451.77C561.75 451.5 564.41 451.46 567.11 451.3C569.82 451.15 572.63 451.03 575.3 450.84C577.97 450.64 581.83 450.25 583.14 450.13" stroke="#0b4d0b" stroke-width="1.1" fill="none"/>
<path d="M241.95 538.45h4.5v4.5h-4.5zM249.89 538.14h4.5v4.5h-4.5zM258.53 538.14h4.5v4.5h-4.5zM267.31 538.14h4.5v4.5h-4.5zM276 538.14h4.5v4.5h-4.5zM284.39 537.25h4.5v4.5h-4.5zM293.02 536.65h4.5v4.5h-4.5zM301.66 536.25h4.5v4.5h-4.5zM310.1 536.18h4.5v4.5h-4.5zM318.44 535.85h4.5v4.5h-4.5zM326.72 534.19h4.5v4.5h-4.5zM334.86 532.8h4.5v4.5h-4.5zM342.85 530.16h4.5v4.5h-4.5zM351.19 529.06h4.5v4.5h-4.5zM359.42 527.35h4.5v4.5h-4.5zM367.46 526.25h4.5v4.5h-4.5zM375.65 523.65h4.5v4.5h-4.5zM384.14 519.85h4.5v4.5h-4.5zM392.57 515.05h4.5v4.5h-4.5zM401.21 510.34h4.5v4.5h-4.5zM409.5 505.45h4.5v4.5h-4.5zM417.94 500.04h4.5v4.5h-4.5zM426.17 493.55h4.5v4.5h-4.5zM434.46 487.74h4.5v4.5h-4.5zM442.95 483.25h4.5v4.5h-4.5zM451.14 478.96h4.5v4.5h-4.5zM459.32 473.86h4.5v4.5h-4.5zM467.56 469.55h4.5v4.5h-4.5zM475.75 466.06h4.5v4.5h-4.5zM483.84 463.95h4.5v4.5h-4.5zM491.97 461.35h4.5v4.5h-4.5zM500.06 459.13h4.5v4.5h-4.5zM508.2 456.78h4.5v4.5h-4.5zM516.19 455.14h4.5v4.5h-4.5zM524.33 453.5h4.5v4.5h-4.5zM532.51 452.1h4.5v4.5h-4.5zM540.75 451.4h4.5v4.5h-4.5zM548.84 450.69h4.5v4.5h-4.5zM556.83 449.52h4.5v4.5h-4.5zM564.86 449.05h4.5v4.5h-4.5zM573.05 448.59h4.5v4.5h-4.5zM580.89 447.88h4.5v4.5h-4.5z" fill="#0b4d0b"/>
</g>
<g clip-path="url(#c3)">
<path d="M244.2 548.59C245.52 548.59 249.38 548.74 252.14 548.59C254.9 548.44 257.87 547.9 260.78 547.7C263.68 547.5 266.65 547.6 269.56 547.4C272.47 547.2 275.4 546.87 278.25 546.51C281.09 546.14 283.8 545.73 286.64 545.2C289.47 544.66 292.39 543.93 295.27 543.3C298.15 542.67 301.06 542.27 303.91 541.4C306.76 540.53 309.55 539.28 312.35 538.1C315.14 536.92 317.91 535.89 320.69 534.3C323.46 532.72 326.24 530.91 328.97 528.59C331.71 526.27 334.42 523.56 337.11 520.39C339.8 517.23 342.38 513.75 345.1 509.6C347.82 505.45 350.67 500.8 353.44 495.5C356.2 490.2 358.96 483.61 361.67 477.79C364.39 471.98 367.01 466.3 369.71 460.6C372.42 454.9 375.12 448.67 377.9 443.6C380.68 438.53 383.57 434.2 386.39 430.2C389.21 426.2 391.98 422.91 394.82 419.59C397.67 416.28 400.64 413 403.46 410.32C406.28 407.64 408.96 405.78 411.75 403.53C414.54 401.28 417.41 399.01 420.19 396.81C422.96 394.6 425.67 392.43 428.42 390.3C431.18 388.16 433.92 386.13 436.71 384C439.51 381.86 442.42 379.67 445.2 377.51C447.98 375.34 450.66 373.13 453.39 371C456.11 368.86 458.84 366.68 461.57 364.7C464.31 362.71 467.07 360.9 469.81 359.1C472.55 357.3 475.29 355.7 478 353.9C480.71 352.1 483.38 350.06 486.09 348.3C488.79 346.54 491.52 344.84 494.22 343.34C496.93 341.84 499.61 340.62 502.31 339.31C505.02 338 507.76 336.59 510.45 335.49C513.14 334.39 515.75 333.55 518.44 332.71C521.13 331.86 523.85 331.11 526.58 330.41C529.3 329.71 532.03 328.99 534.76 328.49C537.5 327.99 540.28 327.71 543 327.39C545.72 327.07 548.41 326.81 551.09 326.59C553.77 326.38 556.41 326.3 559.08 326.1C561.75 325.9 564.41 325.66 567.11 325.4C569.82 325.13 572.63 324.77 575.3 324.51C577.97 324.24 581.83 323.92 583.14 323.81" stroke="#f00" stroke-width="1.15" fill="none"/>
<circle cx="244.2" cy="548.59" r="2.45" fill="none" stroke="#f00" stroke-width="0.95"/>
<circle cx="252.14" cy="548.59" r="2.45" fill="none" stroke="#f00" stroke-width="0.95"/>
<circle cx="260.78" cy="547.7" r="2.45" fill="none" stroke="#f00" stroke-width="0.95"/>
<circle cx="269.56" cy="547.4" r="2.45" fill="none" stroke="#f00" stroke-width="0.95"/>
<circle cx="278.25" cy="546.51" r="2.45" fill="none" stroke="#f00" stroke-width="0.95"/>
<circle cx="286.64" cy="545.2" r="2.45" fill="none" stroke="#f00" stroke-width="0.95"/>
<circle cx="295.27" cy="543.3" r="2.45" fill="none" stroke="#f00" stroke-width="0.95"/>
<circle cx="303.91" cy="541.4" r="2.45" fill="none" stroke="#f00" stroke-width="0.95"/>
<circle cx="312.35" cy="538.1" r="2.45" fill="none" stroke="#f00" stroke-width="0.95"/>
<circle cx="320.69" cy="534.3" r="2.45" fill="none" stroke="#f00" stroke-width="0.95"/>
<circle cx="328.97" cy="528.59" r="2.45" fill="none" stroke="#f00" stroke-width="0.95"/>
<circle cx="337.11" cy="520.39" r="2.45" fill="none" stroke="#f00" stroke-width="0.95"/>
<circle cx="345.1" cy="509.6" r="2.45" fill="none" stroke="#f00" stroke-width="0.95"/>
<circle cx="353.44" cy="495.5" r="2.45" fill="none" stroke="#f00" stroke-width="0.95"/>
<circle cx="361.67" cy="477.79" r="2.45" fill="none" stroke="#f00" stroke-width="0.95"/>
<circle cx="369.71" cy="460.6" r="2.45" fill="none" stroke="#f00" stroke-width="0.95"/>
<circle cx="377.9" cy="443.6" r="2.45" fill="none" stroke="#f00" stroke-width="0.95"/>
<circle cx="386.39" cy="430.2" r="2.45" fill="none" stroke="#f00" stroke-width="0.95"/>
<circle cx="394.82" cy="419.59" r="2.45" fill="none" stroke="#f00" stroke-width="0.95"/>
<circle cx="403.46" cy="410.32" r="2.45" fill="none" stroke="#f00" stroke-width="0.95"/>
<circle cx="411.75" cy="403.53" r="2.45" fill="none" stroke="#f00" stroke-width="0.95"/>
<circle cx="420.19" cy="396.81" r="2.45" fill="none" stroke="#f00" stroke-width="0.95"/>
<circle cx="428.42" cy="390.3" r="2.45" fill="none" stroke="#f00" stroke-width="0.95"/>
<circle cx="436.71" cy="384" r="2.45" fill="none" stroke="#f00" stroke-width="0.95"/>
<circle cx="445.2" cy="377.51" r="2.45" fill="none" stroke="#f00" stroke-width="0.95"/>
<circle cx="453.39" cy="371" r="2.45" fill="none" stroke="#f00" stroke-width="0.95"/>
<circle cx="461.57" cy="364.7" r="2.45" fill="none" stroke="#f00" stroke-width="0.95"/>
<circle cx="469.81" cy="359.1" r="2.45" fill="none" stroke="#f00" stroke-width="0.95"/>
<circle cx="478" cy="353.9" r="2.45" fill="none" stroke="#f00" stroke-width="0.95"/>
<circle cx="486.09" cy="348.3" r="2.45" fill="none" stroke="#f00" stroke-width="0.95"/>
<circle cx="494.22" cy="343.34" r="2.45" fill="none" stroke="#f00" stroke-width="0.95"/>
<circle cx="502.31" cy="339.31" r="2.45" fill="none" stroke="#f00" stroke-width="0.95"/>
<circle cx="510.45" cy="335.49" r="2.45" fill="none" stroke="#f00" stroke-width="0.95"/>
<circle cx="518.44" cy="332.71" r="2.45" fill="none" stroke="#f00" stroke-width="0.95"/>
<circle cx="526.58" cy="330.41" r="2.45" fill="none" stroke="#f00" stroke-width="0.95"/>
<circle cx="534.76" cy="328.49" r="2.45" fill="none" stroke="#f00" stroke-width="0.95"/>
<circle cx="543" cy="327.39" r="2.45" fill="none" stroke="#f00" stroke-width="0.95"/>
<circle cx="551.09" cy="326.59" r="2.45" fill="none" stroke="#f00" stroke-width="0.95"/>
<circle cx="559.08" cy="326.1" r="2.45" fill="none" stroke="#f00" stroke-width="0.95"/>
<circle cx="567.11" cy="325.4" r="2.45" fill="none" stroke="#f00" stroke-width="0.95"/>
<circle cx="575.3" cy="324.51" r="2.45" fill="none" stroke="#f00" stroke-width="0.95"/>
<circle cx="583.14" cy="323.81" r="2.45" fill="none" stroke="#f00" stroke-width="0.95"/>
</g>
<path d="M244.7 323.4H585.2" stroke="#000" stroke-width="1.5" stroke-dasharray="1.5 1.8"/>
<path d="M243.7 314.1V554.7" stroke="#666" stroke-width="1.2"/>
<path d="M585.2 314.1V554.7" stroke="#111" stroke-width="1.4"/>
<path d="M243.2 314.7H585.7" stroke="#444" stroke-width="1.4"/>
<path d="M243.2 554H585.7" stroke="#444" stroke-width="1.8"/>
<text x="250.4" y="344.8" class="b">PE/PP/PVC (1:1:1)</text>
<path d="M247 359.4h28" stroke="#0b4d0b" stroke-width="1.2"/>
<path d="M247 375h28" stroke="#f00" stroke-width="1.2"/>
<rect x="258.75" y="357.2" width="4.5" height="4.4" fill="#0b4d0b"/>
<circle cx="261" cy="375" r="2.3" fill="none" stroke="#f00" stroke-width="1"/>
<text x="278.1" y="363.7" class="g">Experimental TG curve</text>
<text x="277.1" y="379.6" class="c">Calculated</text>
<text x="338.4" y="378.7" class="g2">TG curve</text>
<path d="M582.7 452.8L575.57 458.7" stroke="#111" stroke-width="1"/>
<path d="M571.1 462.4L574.36 457.24L576.78 460.17Z" fill="#111"/>
<text x="544.6" y="472.8" class="a">42 %</text>
</svg></body></html>
